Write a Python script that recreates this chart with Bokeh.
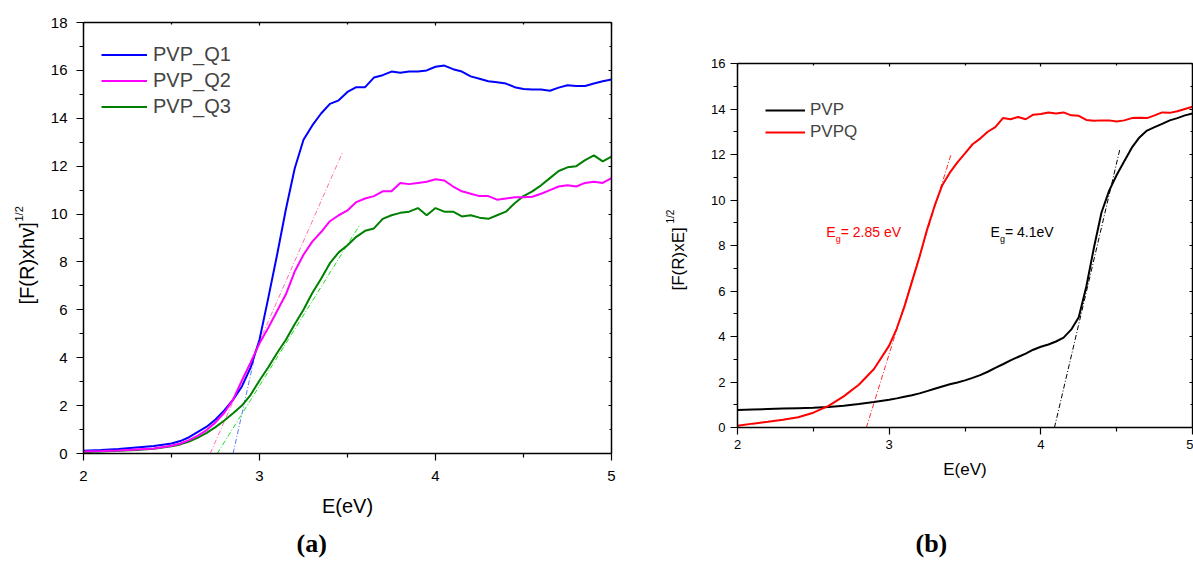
from bokeh.plotting import figure
from bokeh.models import Range1d, LinearAxis, FixedTicker, Label, Legend, LegendItem, Title
from bokeh.layouts import row
from bokeh.embed import file_html
from bokeh.resources import INLINE

FONT = "Liberation Sans"

# ---------------- data: panel (a) ----------------
E_a = [2.0, 2.1, 2.2, 2.3, 2.4, 2.5, 2.55, 2.6, 2.65, 2.7, 2.75, 2.8, 2.85, 2.9, 2.95,
       3.0, 3.05, 3.1, 3.15, 3.2, 3.25, 3.3, 3.35, 3.4, 3.45, 3.5, 3.55, 3.6, 3.65, 3.7,
       3.75, 3.8, 3.85, 3.9, 3.95, 4.0, 4.05, 4.1, 4.15, 4.2, 4.25, 4.3, 4.35, 4.4, 4.45,
       4.5, 4.55, 4.6, 4.65, 4.7, 4.75, 4.8, 4.85, 4.9, 4.95, 5.0]
pvp_q1 = [0.12, 0.15, 0.19, 0.25, 0.31, 0.42, 0.52, 0.68, 0.9, 1.12, 1.42, 1.8, 2.25, 2.8, 3.6,
          4.75, 6.5, 8.3, 10.2, 11.9, 13.1, 13.7, 14.2, 14.6, 14.75, 15.1, 15.3, 15.3, 15.7, 15.8,
          15.95, 15.9, 15.95, 15.95, 16.0, 16.15, 16.2, 16.05, 15.95, 15.75, 15.65, 15.55, 15.5, 15.45, 15.3,
          15.22, 15.2, 15.2, 15.15, 15.28, 15.38, 15.35, 15.35, 15.45, 15.55, 15.62]
pvp_q2 = [0.08, 0.1, 0.13, 0.17, 0.21, 0.32, 0.42, 0.56, 0.75, 0.98, 1.3, 1.7, 2.25, 3.05, 3.8,
          4.6, 5.25, 5.95, 6.65, 7.6, 8.3, 8.85, 9.25, 9.7, 9.95, 10.15, 10.5, 10.65, 10.75, 10.95,
          10.95, 11.3, 11.25, 11.3, 11.35, 11.45, 11.4, 11.15, 10.95, 10.85, 10.75, 10.75, 10.6, 10.65, 10.7,
          10.7, 10.72, 10.85, 11.0, 11.15, 11.2, 11.15, 11.3, 11.35, 11.3, 11.5]
pvp_q3 = [0.06, 0.08, 0.11, 0.15, 0.2, 0.3, 0.38, 0.5, 0.66, 0.86, 1.1, 1.38, 1.68, 2.0, 2.45,
          3.05, 3.6, 4.2, 4.75, 5.4, 6.0, 6.7, 7.3, 7.95, 8.4, 8.7, 9.05, 9.3, 9.4, 9.8,
          9.95, 10.05, 10.1, 10.25, 9.95, 10.25, 10.1, 10.1, 9.9, 9.95, 9.85, 9.8, 9.95, 10.1, 10.45,
          10.75, 10.95, 11.2, 11.5, 11.8, 11.95, 12.0, 12.25, 12.45, 12.2, 12.4]
# tangent (band-gap) fits, panel (a)
fit_q1_E, fit_q1_v = [2.85, 2.98], [0.0, 4.3]
fit_q2_E, fit_q2_v = [2.72, 3.47], [0.0, 12.55]
fit_q3_E, fit_q3_v = [2.76, 3.57], [0.0, 9.55]

# ---------------- data: panel (b) ----------------
E_b = [2.0, 2.1, 2.2, 2.3, 2.4, 2.5, 2.6, 2.7, 2.8, 2.9, 3.0, 3.05, 3.1, 3.15, 3.2, 3.25,
       3.3, 3.35, 3.4, 3.45, 3.5, 3.55, 3.6, 3.65, 3.7, 3.75, 3.8, 3.85, 3.9, 3.95, 4.0,
       4.05, 4.1, 4.15, 4.2, 4.25, 4.3, 4.35, 4.4, 4.45, 4.5, 4.55, 4.6, 4.65, 4.7, 4.75,
       4.8, 4.85, 4.9, 4.95, 5.0]
pvp = [0.77, 0.79, 0.81, 0.83, 0.85, 0.87, 0.9, 0.96, 1.03, 1.12, 1.22, 1.28, 1.35, 1.42, 1.5, 1.6,
       1.7, 1.8, 1.9, 1.98, 2.07, 2.18, 2.3, 2.45, 2.62, 2.78, 2.95, 3.1, 3.25, 3.42, 3.55,
       3.65, 3.78, 3.95, 4.3, 4.85, 6.2, 7.9, 9.45, 10.4, 11.1, 11.7, 12.3, 12.75, 13.05, 13.2,
       13.35, 13.5, 13.6, 13.72, 13.8]
pvpq = [0.08, 0.17, 0.25, 0.34, 0.45, 0.65, 0.95, 1.37, 1.88, 2.57, 3.6, 4.35, 5.3, 6.4, 7.5, 8.7,
        9.75, 10.65, 11.2, 11.65, 12.05, 12.45, 12.7, 13.0, 13.2, 13.6, 13.55, 13.65, 13.55, 13.75, 13.78,
        13.85, 13.8, 13.85, 13.72, 13.7, 13.52, 13.48, 13.5, 13.5, 13.45, 13.5, 13.6, 13.62, 13.6, 13.72,
        13.85, 13.83, 13.9, 14.0, 14.1]
fit_pvpq_E, fit_pvpq_v = [2.85, 3.41], [0.0, 12.05]
fit_pvp_E, fit_pvp_v = [4.09, 4.52], [0.0, 12.2]

x_major = [2, 3, 4, 5]
x_minor = [2.5, 3.5, 4.5]
ya_major = list(range(0, 19, 2))
ya_minor = list(range(1, 18, 2))
yb_major = list(range(0, 17, 2))
yb_minor = list(range(1, 16, 2))

H = 565


def setup(p, ymaj, ymin, tick_fs, lab_fs, x_sd, y_sd, lab_sd):
    if "frame_align" in p.properties():
        p.frame_align = False
    p.xgrid.visible = False
    p.ygrid.visible = False
    p.outline_line_color = None
    p.xaxis.ticker = FixedTicker(ticks=x_major, minor_ticks=x_minor)
    p.yaxis.ticker = FixedTicker(ticks=ymaj, minor_ticks=ymin)
    for ax, sd in ((p.xaxis[0], x_sd), (p.yaxis[0], y_sd)):
        ax.axis_line_width = 1.5
        ax.axis_line_color = "black"
        ax.major_tick_line_color = "black"
        ax.minor_tick_line_color = "black"
        ax.major_tick_line_width = 1.2
        ax.minor_tick_line_width = 1.2
        ax.major_tick_out = 7
        ax.major_tick_in = 0
        ax.minor_tick_out = 4
        ax.minor_tick_in = 0
        ax.major_label_text_font = FONT
        ax.major_label_text_font_size = tick_fs
        ax.major_label_text_color = "black"
        ax.major_label_standoff = sd
    p.xaxis.axis_label = "E(eV)"
    p.xaxis.axis_label_text_font = FONT
    p.xaxis.axis_label_text_font_size = lab_fs
    p.xaxis.axis_label_text_font_style = "normal"
    p.xaxis.axis_label_text_color = "black"
    p.xaxis.axis_label_standoff = lab_sd
    # mirrored frame axes (inward ticks, no labels)
    for loc, maj, mnr in (("above", x_major, x_minor), ("right", ymaj, ymin)):
        ax = LinearAxis(ticker=FixedTicker(ticks=maj, minor_ticks=mnr),
                        axis_line_width=1.5, axis_line_color="black",
                        major_tick_in=3, major_tick_out=0, minor_tick_in=2, minor_tick_out=0,
                        major_label_overrides={t: "" for t in maj},
                        major_label_text_font_size="1px", major_label_standoff=0,
                        major_tick_line_width=1.2, minor_tick_line_width=1.2)
        p.add_layout(ax, loc)


def spacer_axis(size):
    # blank axis (white tick, no line, empty label) that only reserves space below the x axis
    return LinearAxis(ticker=FixedTicker(ticks=[5], minor_ticks=[]), axis_line_color=None,
                      major_tick_out=size, major_tick_in=0, minor_tick_out=0, minor_tick_in=0,
                      major_tick_line_color="white", major_label_standoff=0,
                      major_label_overrides={5: ""}, major_label_text_font_size="1px")


def title(text, size, standoff, offset, font=FONT, style="normal"):
    return Title(text=text, align="left", standoff=standoff, offset=offset,
                 text_font=font, text_font_size=size, text_font_style=style,
                 text_color="black")


# ---------------- panel (a) ----------------
pa = figure(width=640, height=H, x_range=Range1d(2, 5), y_range=Range1d(0, 18),
            output_backend="svg", toolbar_location=None,
            min_border_left=83, min_border_right=29, min_border_top=22, min_border_bottom=112)
setup(pa, ya_major, ya_minor, "15px", "20px", 10, 9, 11)

pa.line(fit_q1_E, fit_q1_v, color="#5a78ff", line_width=1, line_dash="5 2 1 2")
pa.line(fit_q2_E, fit_q2_v, color="#ff6fae", line_width=1, line_dash="5 2 1 2")
pa.line(fit_q3_E, fit_q3_v, color="#22dd22", line_width=1, line_dash="5 2 1 2")
r3 = pa.line(E_a, pvp_q3, color="#008000", line_width=2)
r1 = pa.line(E_a, pvp_q1, color="#0000ff", line_width=2)
r2 = pa.line(E_a, pvp_q2, color="#ff00ff", line_width=2)

leg_a = Legend(items=[LegendItem(label="PVP_Q1", renderers=[r1]),
                      LegendItem(label="PVP_Q2", renderers=[r2]),
                      LegendItem(label="PVP_Q3", renderers=[r3])],
               location=(18, 334), padding=0, margin=0, spacing=1,
               glyph_width=46, glyph_height=25, label_height=25, label_standoff=6,
               label_text_font=FONT, label_text_font_size="20px",
               border_line_color=None, background_fill_alpha=0)
pa.add_layout(leg_a)

pa.add_layout(title("[F(R)xhv]", "20px", 19, 149), "left")
pa.add_layout(title("1/2", "11px", -40, 232), "left")
pa.add_layout(spacer_axis(6), "below")
pa.add_layout(title("(a)", "26px", 2, 213, font="Liberation Serif", style="bold"), "below")

# ---------------- panel (b) ----------------
pb = figure(width=553, height=H, x_range=Range1d(2, 5), y_range=Range1d(0, 16),
            output_backend="svg", toolbar_location=None,
            min_border_left=97, min_border_right=1, min_border_top=63, min_border_bottom=138)
setup(pb, yb_major, yb_minor, "13px", "17px", 5, 5, 8)

pb.line(fit_pvpq_E, fit_pvpq_v, color="#ff2a2a", line_width=1, line_dash="5 2 1 2")
pb.line(fit_pvp_E, fit_pvp_v, color="#000000", line_width=1, line_dash="5 2 1 2")
rb1 = pb.line(E_b, pvp, color="#000000", line_width=2)
rb2 = pb.line(E_b, pvpq, color="#ff0000", line_width=2)

leg_b = Legend(items=[LegendItem(label="PVP", renderers=[rb1]),
                      LegendItem(label="PVPQ", renderers=[rb2])],
               location=(28, 284), padding=0, margin=0, spacing=0,
               glyph_width=40, glyph_height=22, label_height=22, label_standoff=5,
               label_text_font=FONT, label_text_font_size="17px",
               border_line_color=None, background_fill_alpha=0)
pb.add_layout(leg_b)

pb.add_layout(title("[F(R)xE]", "17px", 42, 137), "left")
pb.add_layout(title("1/2", "10px", -61, 204), "left")
pb.add_layout(spacer_axis(44), "below")
pb.add_layout(title("(b)", "26px", 3, 178, font="Liberation Serif", style="bold"), "below")

# band-gap annotations
for x0, col, rest in ((2.585, "#ff0000", "= 2.85 eV"), (3.668, "black", "= 4.1eV")):
    pb.add_layout(Label(x=x0, y=8.6, text="E", text_align="left", text_baseline="middle",
                        text_font=FONT, text_font_size="14px", text_color=col))
    pb.add_layout(Label(x=x0, y=8.6, x_offset=9.5, y_offset=-7, text="g", text_align="left",
                        text_baseline="middle", text_font=FONT, text_font_size="9px",
                        text_color=col))
    pb.add_layout(Label(x=x0, y=8.6, x_offset=14.5, text=rest, text_align="left",
                        text_baseline="middle", text_font=FONT, text_font_size="14px",
                        text_color=col))

layout = row(pa, pb)
open("out.html", "w").write(file_html(layout, INLINE))
